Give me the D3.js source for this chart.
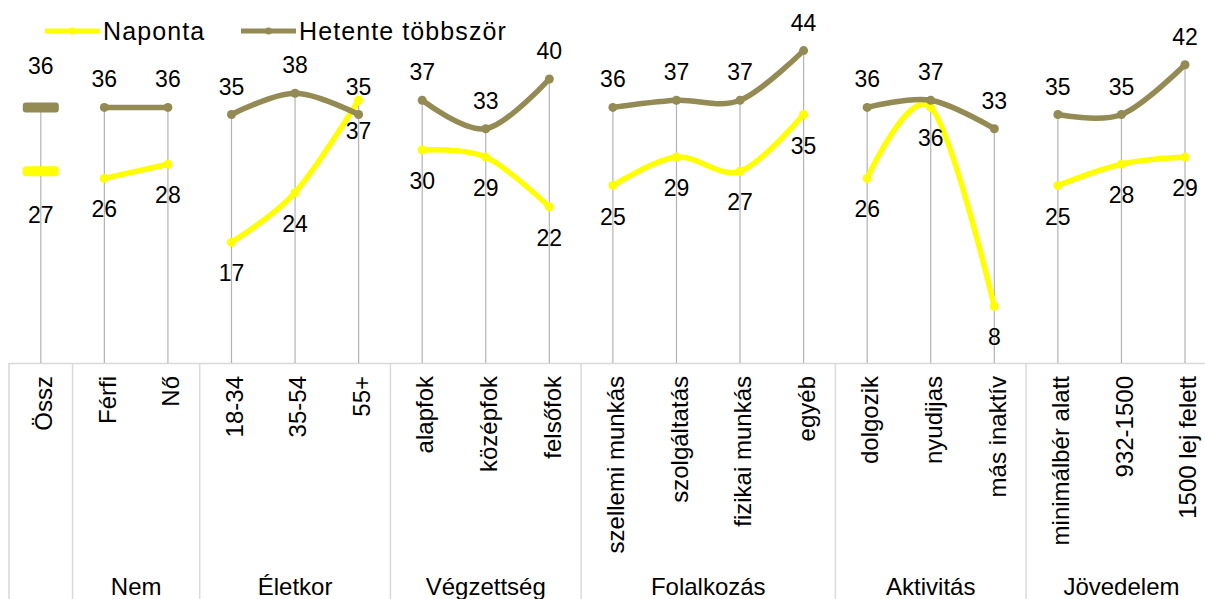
<!DOCTYPE html>
<html>
<head>
<meta charset="utf-8">
<script src="https://cdn.jsdelivr.net/npm/d3@7"></script>
<style>
  body { margin: 0; background: #fff; }
  text { font-family: "Liberation Sans", Arial, sans-serif; font-size: 24px; fill: #000; }
  .lblH, .lblN { font-size: 23px; }
</style>
</head>
<body>
<svg id="canvas" width="1205" height="599"></svg>
<script>
// chart data
const categories = ['Össz', 'Férfi', 'Nő', '18-34', '35-54', '55+', 'alapfok', 'középfok', 'felsőfok',
  'szellemi munkás', 'szolgáltatás', 'fizikai munkás', 'egyéb', 'dolgozik', 'nyudijas', 'más inaktív',
  'minimálbér alatt', '932-1500', '1500 lej felett']
const groupNames = ['', 'Nem', 'Életkor', 'Végzettség', 'Folalkozás', 'Aktivitás', 'Jövedelem']
const groupSizes = [1, 2, 3, 3, 4, 3, 3]
const naponta = [27, 26, 28, 17, 24, 37, 30, 29, 22, 25, 29, 27, 35, 26, 36, 8, 25, 28, 29]
const hetente = [36, 36, 36, 35, 38, 35, 37, 33, 40, 36, 37, 37, 44, 36, 37, 33, 35, 35, 42]
const seriesNames = ['Naponta', 'Hetente többször']

const colors = ['#ffff00', '#948a54']
const axisY = 363

let canvas = d3.select('#canvas')

let x = d3.scaleBand()
          .domain(categories)
          .range([9, 1216.8])
let y = d3.scaleLinear()
          .domain([0, 50])
          .range([axisY, 8])

let cx = (i) => x(categories[i]) + x.bandwidth() / 2

// groups -> start/end index
let groups = []
let start = 0
groupSizes.forEach((size, g) => {
    groups.push({ name: groupNames[g], start: start, end: start + size - 1 })
    start += size
})

// category table lines
canvas.append('line')
      .attr('x1', x.range()[0]).attr('x2', 1205)
      .attr('y1', axisY + 0.5).attr('y2', axisY + 0.5)
      .attr('stroke', '#d9d9d9').attr('stroke-width', 1.5)

canvas.selectAll('.sep')
      .data(groups)
      .enter()
      .append('line')
      .attr('class', 'sep')
      .attr('x1', (g) => x(categories[g.start]))
      .attr('x2', (g) => x(categories[g.start]))
      .attr('y1', axisY)
      .attr('y2', 599)
      .attr('stroke', '#d9d9d9').attr('stroke-width', 1.5)

// drop lines from the highest point down to the axis
canvas.selectAll('.drop')
      .data(categories)
      .enter()
      .append('line')
      .attr('class', 'drop')
      .attr('x1', (c, i) => cx(i))
      .attr('x2', (c, i) => cx(i))
      .attr('y1', (c, i) => y(Math.max(naponta[i], hetente[i])))
      .attr('y2', axisY)
      .attr('stroke', '#b3b3b3').attr('stroke-width', 1.2)

// smoothed lines, one piece per group
let line = d3.line()
             .x((d) => cx(d.i))
             .y((d) => y(d.v))
             .curve(d3.curveCardinal.tension(0))

let allSeries = [naponta, hetente]

allSeries.forEach((values, s) => {
    groups.forEach((g) => {
        let pts = d3.range(g.start, g.end + 1).map((i) => ({ i: i, v: values[i] }))
        if (pts.length > 1) {
            canvas.append('path')
                  .attr('d', line(pts))
                  .attr('fill', 'none')
                  .attr('stroke', colors[s])
                  .attr('stroke-width', 5.5)
                  .attr('stroke-linecap', 'round')
            canvas.selectAll(null)
                  .data(pts)
                  .enter()
                  .append('circle')
                  .attr('cx', (d) => cx(d.i))
                  .attr('cy', (d) => y(d.v))
                  .attr('r', 4.5)
                  .attr('fill', colors[s])
        } else {
            // single point (Össz) is shown with a dash marker
            canvas.append('rect')
                  .attr('x', cx(g.start) - 18)
                  .attr('y', y(values[g.start]) - 5)
                  .attr('width', 36)
                  .attr('height', 10)
                  .attr('rx', 3)
                  .attr('fill', colors[s])
        }
    })
})

// data labels: Hetente above, Naponta below
canvas.selectAll('.lblH')
      .data(hetente)
      .enter()
      .append('text')
      .attr('class', 'lblH')
      .attr('x', (v, i) => cx(i))
      .attr('y', (v, i) => y(v) - (i === 0 ? 33 : 20))
      .attr('text-anchor', 'middle')
      .text((v) => v)

canvas.selectAll('.lblN')
      .data(naponta)
      .enter()
      .append('text')
      .attr('class', 'lblN')
      .attr('x', (v, i) => cx(i))
      .attr('y', (v, i) => y(v) + (i === 0 ? 52 : 39))
      .attr('text-anchor', 'middle')
      .text((v) => v)

// category labels (rotated)
canvas.selectAll('.cat')
      .data(categories)
      .enter()
      .append('text')
      .attr('class', 'cat')
      .attr('transform', (c, i) => 'translate(' + cx(i) + ',' + 376 + ') rotate(-90)')
      .attr('dy', '0.47em')
      .attr('text-anchor', 'end')
      .text((c) => c)

// group labels
canvas.selectAll('.grp')
      .data(groups)
      .enter()
      .append('text')
      .attr('class', 'grp')
      .attr('x', (g) => (cx(g.start) + cx(g.end)) / 2)
      .attr('y', 595)
      .attr('text-anchor', 'middle')
      .text((g) => g.name)

// legend
let legendX = [45, 241]
seriesNames.forEach((name, s) => {
    let lx = legendX[s]
    canvas.append('line')
          .attr('x1', lx).attr('x2', lx + 55)
          .attr('y1', 31).attr('y2', 31)
          .attr('stroke', colors[s]).attr('stroke-width', 5)
    canvas.append('circle')
          .attr('cx', lx + 27.5).attr('cy', 31).attr('r', 3.5)
          .attr('fill', colors[s])
    canvas.append('text')
          .attr('x', lx + 58)
          .attr('y', 40)
          .style('font-size', '25px')
          .style('letter-spacing', '1.1px')
          .text(name)
})
</script>
</body>
</html>
